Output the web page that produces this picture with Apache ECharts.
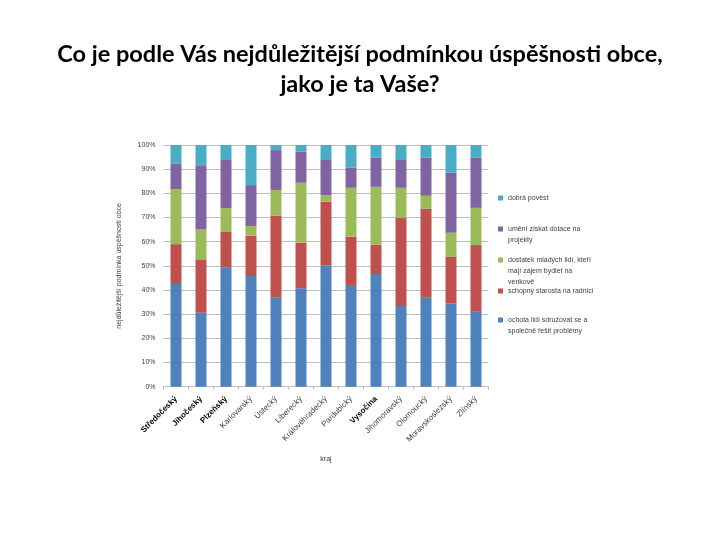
<!DOCTYPE html>
<html><head><meta charset="utf-8">
<script src="https://cdn.jsdelivr.net/npm/echarts@6/dist/echarts.min.js"></script>
<style>html,body{margin:0;padding:0;background:#fff}#c{width:720px;height:540px}</style>
</head><body><div id="c"></div>
<script>
const categories = ['Středočeský','Jihočeský','Plzeňský','Karlovarský','Ústecký','Liberecký','Královéhradecký','Pardubický','Vysočina','Jihomoravský','Olomoucký','Moravskoslezský','Zlínský'];
const boldCats = ['Středočeský','Jihočeský','Plzeňský','Vysočina'];
const ochota   = [42.5,30.6,49.4,45.8,37.0,40.7,50.1,41.7,46.6,33.4,36.8,34.5,31.0];
const starosta = [16.5,22.1,14.6,16.7,33.8,18.9,26.4,20.4,12.2,36.5,36.8,19.2,27.6];
const mladi    = [22.8,12.5, 9.9, 4.0,10.6,24.8, 2.8,20.2,23.9,12.4, 5.4,10.0,15.4];
const dotace   = [10.6,26.1,19.9,16.9,16.5,12.8,14.5, 8.3,12.0,11.5,15.7,24.8,20.7];
const povest   = [ 7.6, 8.7, 6.2,16.6, 2.1, 2.8, 6.2, 9.4, 5.3, 6.2, 5.3,11.5, 5.3];
const yTicks = ['0%','10%','20%','30%','40%','50%','60%','70%','80%','90%','100%'];
const seriesNames = [
  'ochota lidí sdružovat se a společně řešit problémy',
  'schopný starosta na radnici',
  'dostatek mladých lidí, kteří mají zájem bydlet na venkově',
  'umění získat dotace na projekty',
  'dobrá pověst'
];
const legendLines = {
  'dobrá pověst':['dobrá pověst'],
  'umění získat dotace na projekty':['umění získat dotace na','projekty'],
  'dostatek mladých lidí, kteří mají zájem bydlet na venkově':['dostatek mladých lidí, kteří','mají zájem bydlet na','venkově'],
  'schopný starosta na radnici':['schopný starosta na radnici'],
  'ochota lidí sdružovat se a společně řešit problémy':['ochota lidí sdružovat se a','společně řešit problémy']
};
const legendMarkerY = {'dobrá pověst':198,'umění získat dotace na projekty':229,'dostatek mladých lidí, kteří mají zájem bydlet na venkově':260,'schopný starosta na radnici':291,'ochota lidí sdružovat se a společně řešit problémy':320};
const colors = ['#4F81BD','#C0504D','#9BBB59','#8064A2','#4BACC6'];
const values = [ochota, starosta, mladi, dotace, povest];
const FONT = 'Liberation Sans';
const LH = 11;

const chart = echarts.init(document.getElementById('c'));
chart.setOption({
  animation:false,
  color: colors,
  title:{
    text:'Co je podle Vás nejdůležitější podmínkou úspěšnosti obce,\njako je ta Vaše?',
    left:'center', top:34,
    textStyle:{fontFamily:'Lato', fontSize:23.5, fontWeight:'bold', color:'#000', lineHeight:30}
  },
  legend: seriesNames.slice().reverse().map(n=>{
    const lines = legendLines[n];
    const total = 2*lines.length-1;
    return {
      data:[n], left:498, top: legendMarkerY[n] - total*LH/2, orient:'vertical',
      itemWidth:5, itemHeight:5, itemGap:0, padding:0, icon:'rect',
      formatter: name => Array(lines.length-1).fill('').concat(lines).join('\n'),
      textStyle:{fontFamily:FONT, fontSize:7, color:'#404040', lineHeight:LH}
    };
  }),
  grid:{left:163.5, right:231.5, top:145, bottom:153.3},
  xAxis:{
    type:'category', data:categories,
    name:'kraj', nameLocation:'middle', nameGap:69,
    nameTextStyle:{fontFamily:FONT, fontSize:7, color:'#404040'},
    axisLine:{lineStyle:{color:'#BFBFBF'}},
    axisTick:{show:true, length:3, lineStyle:{color:'#BFBFBF'}},
    axisLabel:{
      rotate:45, interval:0, margin:11,
      fontFamily:FONT, fontSize:8, color:'#404040',
      formatter: v => boldCats.includes(v) ? '{b|'+v+'}' : v,
      rich:{b:{fontFamily:FONT, fontSize:8, fontWeight:'bold', color:'#000'}}
    }
  },
  yAxis:{
    type:'value', min:0, max:100, interval:10,
    name:'nejdůležitější podmínka úspěšnosti obce', nameLocation:'middle', nameGap:41,
    nameTextStyle:{fontFamily:FONT, fontSize:7, color:'#404040'},
    axisLine:{show:false}, axisTick:{show:false},
    axisLabel:{fontFamily:FONT, fontSize:7, color:'#404040', margin:8,
      formatter: v => yTicks[Math.round(v/10)]},
    splitLine:{lineStyle:{color:'#BFBFBF'}}
  },
  series: seriesNames.map((n,i)=>({
    name:n, type:'bar', stack:'total', barWidth:11,
    data: values[i], itemStyle:{color:colors[i]}
  }))
});
</script></body></html>
